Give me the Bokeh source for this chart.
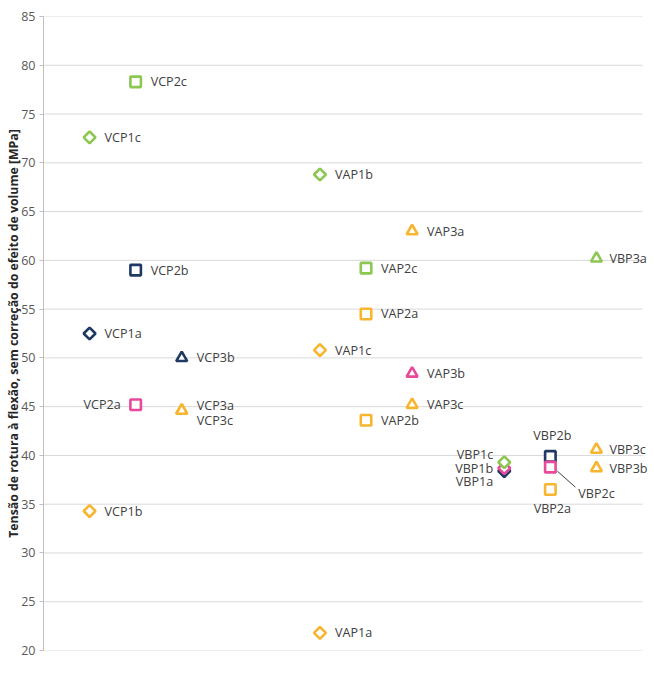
from bokeh.plotting import figure
from bokeh.models import ColumnDataSource, Range1d, FixedTicker, LabelSet
from bokeh.core.properties import value
from bokeh.embed import file_html
from bokeh.resources import INLINE

# ---- data ----
groups = ["VCP1", "VCP2", "VCP3", "VAP1", "VAP2", "VAP3", "VBP1", "VBP2", "VBP3"]
group_pos = [1, 2, 3, 6, 7, 8, 10, 11, 12]
suffixes = ["a", "b", "c"]
values = {
    "VCP1": [52.5, 34.3, 72.6],
    "VCP2": [45.2, 59.0, 78.3],
    "VCP3": [44.6, 50.0, 44.6],
    "VAP1": [21.8, 68.8, 50.8],
    "VAP2": [54.5, 43.6, 59.2],
    "VAP3": [63.0, 48.4, 45.2],
    "VBP1": [38.4, 38.7, 39.3],
    "VBP2": [36.5, 39.9, 38.8],
    "VBP3": [60.2, 38.7, 40.6],
}
y_ticks = [20, 25, 30, 35, 40, 45, 50, 55, 60, 65, 70, 75, 80, 85]
y_label = "Tensão de rotura à flexão, sem correção do efeito de volume [MPa]"
x_end = 13  # end of the plotting area (category slots)

# ---- styles ----
NAVY, GREEN, YELLOW, PINK = "#1F3864", "#8CC751", "#F8B530", "#E8499A"
point_colors = {
    "VCP1": [NAVY, YELLOW, GREEN],
    "VCP2": [PINK, NAVY, GREEN],
    "VCP3": [YELLOW, NAVY, YELLOW],
    "VAP1": [YELLOW, GREEN, YELLOW],
    "VAP2": [YELLOW, YELLOW, GREEN],
    "VAP3": [YELLOW, PINK, YELLOW],
    "VBP1": [NAVY, PINK, GREEN],
    "VBP2": [YELLOW, NAVY, PINK],
    "VBP3": [GREEN, YELLOW, YELLOW],
}
# label placement: (x_offset px, y_offset px (up positive), align)
label_place = {
    "VCP2a": (-15, 0, "right"),
    "VCP3a": (15, 5, "left"),
    "VCP3c": (15, -10, "left"),
    "VBP1a": (-11, -10, "right"),
    "VBP1b": (-11, 0, "right"),
    "VBP1c": (-11, 8, "right"),
    "VBP2a": (2, -19, "center"),
    "VBP2b": (2, 21, "center"),
    "VBP2c": (28, -26, "left"),
    "VBP3a": (13, 0, "left"),
    "VBP3b": (13, 0, "left"),
    "VBP3c": (13, 0, "left"),
}

FRAME_W_REF = 599.0  # px covered by 0..x_end
LEFT = 43
frame_w = 654 - LEFT
p = figure(width=654, height=691, output_backend="svg", toolbar_location=None,
           x_range=Range1d(0, x_end * frame_w / FRAME_W_REF), y_range=Range1d(20, 85),
           min_border_left=LEFT, min_border_right=0, min_border_top=16, min_border_bottom=41)
p.outline_line_color = None
p.background_fill_color = "white"
p.xaxis.visible = False
p.xgrid.visible = False
p.ygrid.visible = False
p.yaxis.ticker = FixedTicker(ticks=y_ticks)
p.yaxis.axis_line_color = "#BFBFBF"
p.yaxis.major_tick_line_color = "#BFBFBF"
p.yaxis.major_tick_out = 4
p.yaxis.major_tick_in = 0
p.yaxis.minor_tick_line_color = None
p.yaxis.major_label_text_font = "Open Sans"
p.yaxis.major_label_text_font_size = "12.5px"
p.yaxis.major_label_text_color = "#595959"
p.yaxis.major_label_standoff = 4
p.yaxis.axis_label = y_label
p.yaxis.axis_label_text_font = "Open Sans"
p.yaxis.axis_label_text_font_size = "12.3px"
p.yaxis.axis_label_text_font_style = "bold"
p.yaxis.axis_label_text_color = "#262626"
p.yaxis.axis_label_standoff = -4

# horizontal gridlines, ending at the plot area's right edge
p.segment(x0=[0] * len(y_ticks), y0=y_ticks, x1=[x_end] * len(y_ticks), y1=y_ticks,
          line_color="#D9D9D9", line_width=1, level="underlay")

markers = {"1": "diamond", "2": "square", "3": "triangle"}

lx, ly, lt, lxo, lyo, la = [], [], [], [], [], []
for g, gx in zip(groups, group_pos):
    kind = markers[g[-1]]
    for i, s in enumerate(suffixes):
        yv = values[g][i]
        col = point_colors[g][i]
        if kind == "diamond":
            p.scatter([gx], [yv], marker="square", size=8.4, angle=0.785398,
                      fill_color="white", line_color=col, line_width=2.6)
        elif kind == "square":
            p.scatter([gx], [yv], marker="square", size=10.5,
                      fill_color="white", line_color=col, line_width=2.6)
        else:
            p.scatter([gx], [yv], marker="triangle", size=11,
                      fill_color="white", line_color=col, line_width=2.6)
        name = g + s
        xo, yo, al = label_place.get(name, (15, 0, "left"))
        lx.append(gx); ly.append(yv); lt.append(name)
        lxo.append(xo); lyo.append(yo); la.append(al)

for align in ("left", "right", "center"):
    idx = [k for k in range(len(lt)) if la[k] == align]
    src = ColumnDataSource(dict(x=[lx[k] for k in idx], y=[ly[k] for k in idx],
                                text=[lt[k] for k in idx], xo=[lxo[k] for k in idx],
                                yo=[lyo[k] for k in idx]))
    p.add_layout(LabelSet(x="x", y="y", text="text", x_offset="xo", y_offset="yo",
                          text_align=align, text_baseline="middle",
                          text_font=value("Open Sans"),
                          text_font_size="12.6px", text_color="#404040", source=src))

# leader line for VBP2c
gx = group_pos[groups.index("VBP2")]
yv = values["VBP2"][2]
pxx, pxy = 46.0, 9.75
p.segment(x0=[gx + 7 / pxx], y0=[yv - 4 / pxy], x1=[gx + 25 / pxx], y1=[yv - 20 / pxy],
          line_color="#404040", line_width=1)

open("out.html", "w").write(file_html(p, INLINE))
